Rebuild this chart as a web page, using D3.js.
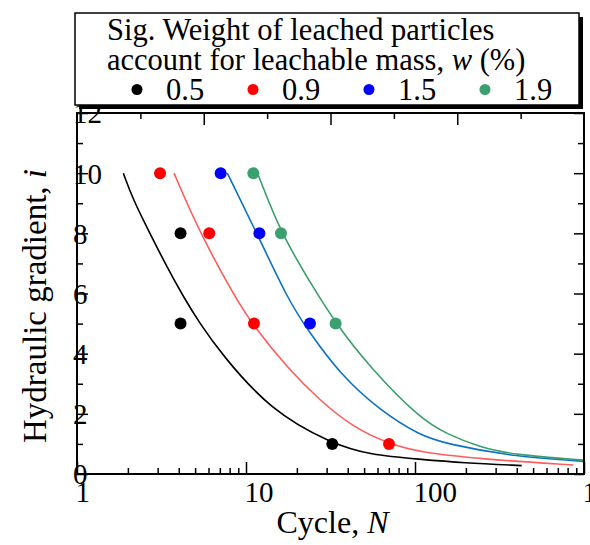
<!DOCTYPE html>
<html>
<head>
<meta charset="utf-8">
<script src="https://cdn.jsdelivr.net/npm/d3@7"></script>
<style>
  html, body { margin: 0; padding: 0; background: #fff; }
</style>
</head>
<body>
<svg id="chart" width="590" height="545"></svg>
<script>
const SERIF = '"Liberation Serif", "Times New Roman", Times, serif';

// Leached-mass groups, w (%)
const groups = ["0.5", "0.9", "1.5", "1.9"];
const pointColors = ["#000000", "#ff0000", "#0000ff", "#3aa06d"];
const curveColors = ["#000000", "#ff5c5c", "#0a72c8", "#3c9e6c"];

// Measured points: cycle N and hydraulic gradient i
const pointsN = [
  [4.1, 4.1, 32.4],
  [3.1, 6.06, 11.15, 70.2],
  [7.08, 12.0, 23.9],
  [11.05, 16.1, 33.9]
];
const pointsI = [
  [8, 5, 1],
  [10, 8, 5, 1],
  [10, 8, 5],
  [10, 8, 5]
];

// Fitted curves: cycle N and hydraulic gradient i
const curveN = [
  [1.88, 2.15, 2.7, 3.4, 4.26, 5.34, 7.02, 13.9, 32.4, 54.2, 107, 192, 428],
  [3.75, 5.34, 8.81, 10.85, 17.4, 27.4, 43.1, 70.2, 107, 242, 865],
  [7.75, 11.6, 17.8, 22.9, 36.0, 62.1, 107, 154, 382, 1000],
  [11.8, 16.1, 24.2, 34.0, 54.2, 107, 154, 242, 382, 1000]
];
const curveI = [
  [10, 9.11, 8, 6.89, 5.89, 5, 4.05, 2.11, 1.0, 0.64, 0.49, 0.37, 0.28],
  [10, 8, 5.78, 5, 3.55, 2.44, 1.55, 1.0, 0.72, 0.5, 0.3],
  [10, 8, 5.78, 4.83, 3.31, 2.11, 1.28, 1.0, 0.58, 0.42],
  [9.95, 8, 6.33, 5.0, 3.54, 1.84, 1.33, 0.89, 0.64, 0.46]
];

// Axis ticks
const xMajor = [1, 10, 100, 1000];
const xMinor = [2,3,4,5,6,7,8,9,20,30,40,50,60,70,80,90,200,300,400,500,600,700,800,900];
const yMajor = [0, 2, 4, 6, 8, 10, 12];
const yMinor = [1, 3, 5, 7, 9, 11];
const topMajor = [0.25, 0.5, 0.75];
const topMinor = [0.125, 0.375, 0.625, 0.875];

const svg = d3.select("#chart");
const L = 77, R = 584, T = 113, B = 474;

const x = d3.scaleLog().domain([1, 1000]).range([L, R]);
const y = d3.scaleLinear().domain([0, 12]).range([B, T]);
const xTop = d3.scaleLinear().domain([0, 1]).range([L, R]);

svg.append("defs").append("clipPath").attr("id", "plotClip")
  .append("rect").attr("x", L).attr("y", T).attr("width", R - L).attr("height", B - T);

// Curves
const line = d3.line().x(d => x(d[0])).y(d => y(d[1])).curve(d3.curveBasis);
const curves = svg.append("g").attr("clip-path", "url(#plotClip)");
curveN.forEach((ns, k) => {
  curves.append("path")
    .datum(ns.map((n, j) => [n, curveI[k][j]]))
    .attr("d", line)
    .attr("fill", "none")
    .attr("stroke", curveColors[k])
    .attr("stroke-width", 1.6);
});

// Points
const pts = svg.append("g");
pointsN.forEach((ns, k) => {
  pts.selectAll(null)
    .data(ns.map((n, j) => [n, pointsI[k][j]]))
    .join("circle")
    .attr("cx", d => x(d[0]))
    .attr("cy", d => y(d[1]))
    .attr("r", 6)
    .attr("fill", pointColors[k]);
});

// Axes
function styleAxis(g) {
  g.select(".domain").remove();
  g.selectAll(".tick line").attr("stroke", "#000").attr("stroke-width", 1.5);
}

// bottom
const gb = svg.append("g").attr("transform", `translate(0,${B})`);
gb.append("g").call(d3.axisBottom(x).tickValues(xMinor).tickSize(-6).tickFormat("")).call(styleAxis);
gb.append("g").call(d3.axisBottom(x).tickValues(xMajor).tickSize(-12).tickFormat(d3.format("d")))
  .call(styleAxis)
  .call(g => g.selectAll(".tick text")
    .attr("text-anchor", "start").attr("x", -2).attr("y", 28).attr("dy", null)
    .attr("fill", "#000").attr("font-size", 29).attr("font-family", SERIF));

// top (unlabelled linear ticks)
const gt = svg.append("g").attr("transform", `translate(0,${T})`);
gt.append("g").call(d3.axisTop(xTop).tickValues(topMinor).tickSize(-6).tickFormat("")).call(styleAxis);
gt.append("g").call(d3.axisTop(xTop).tickValues(topMajor).tickSize(-12).tickFormat("")).call(styleAxis);

// left
const gl = svg.append("g").attr("transform", `translate(${L},0)`);
gl.append("g").call(d3.axisLeft(y).tickValues(yMinor).tickSize(-6).tickFormat("")).call(styleAxis);
gl.append("g").call(d3.axisLeft(y).tickValues(yMajor).tickSize(-11).tickFormat(d3.format("d")))
  .call(styleAxis)
  .call(g => g.selectAll(".tick text")
    .attr("text-anchor", "start").attr("x", -4).attr("dy", "0.34em")
    .attr("fill", "#000").attr("font-size", 29).attr("font-family", SERIF));

// right
const gr = svg.append("g").attr("transform", `translate(${R},0)`);
gr.append("g").call(d3.axisRight(y).tickValues(yMinor).tickSize(-6).tickFormat("")).call(styleAxis);
gr.append("g").call(d3.axisRight(y).tickValues(yMajor).tickSize(-10).tickFormat("")).call(styleAxis);

// Frame
svg.append("rect").attr("x", L).attr("y", T).attr("width", R - L).attr("height", B - T)
  .attr("fill", "none").attr("stroke", "#000").attr("stroke-width", 2);

// Axis titles
const xt = svg.append("text").attr("x", (L + R) / 2 + 2).attr("y", 533)
  .attr("text-anchor", "middle").attr("font-family", SERIF).attr("font-size", 32);
xt.append("tspan").text("Cycle, ");
xt.append("tspan").attr("font-style", "italic").text("N");

const yt = svg.append("text").attr("transform", "translate(46,306) rotate(-90)")
  .attr("text-anchor", "middle").attr("font-family", SERIF).attr("font-size", 33);
yt.append("tspan").text("Hydraulic gradient, ");
yt.append("tspan").attr("font-style", "italic").text("i");

// Legend
const lg = svg.append("g").attr("font-family", SERIF).attr("font-size", 30.5);
lg.append("rect").attr("x", 79).attr("y", 17).attr("width", 504).attr("height", 92).attr("fill", "#000");
lg.append("rect").attr("x", 75).attr("y", 13).attr("width", 504).attr("height", 92)
  .attr("fill", "#fff").attr("stroke", "#000").attr("stroke-width", 1.5);
lg.append("text").attr("x", 107).attr("y", 40).text("Sig. Weight of leached particles");
const l2 = lg.append("text").attr("x", 107).attr("y", 70);
l2.append("tspan").text("account for leachable mass, ");
l2.append("tspan").attr("font-style", "italic").text("w");
l2.append("tspan").text(" (%)");

const legendX = d3.scalePoint().domain(groups).range([137, 485]);
groups.forEach((gname, k) => {
  lg.append("circle").attr("cx", legendX(gname)).attr("cy", 89.5).attr("r", 5.5).attr("fill", pointColors[k]);
  lg.append("text").attr("x", legendX(gname) + 29).attr("y", 100).text(gname);
});
</script>
</body>
</html>
